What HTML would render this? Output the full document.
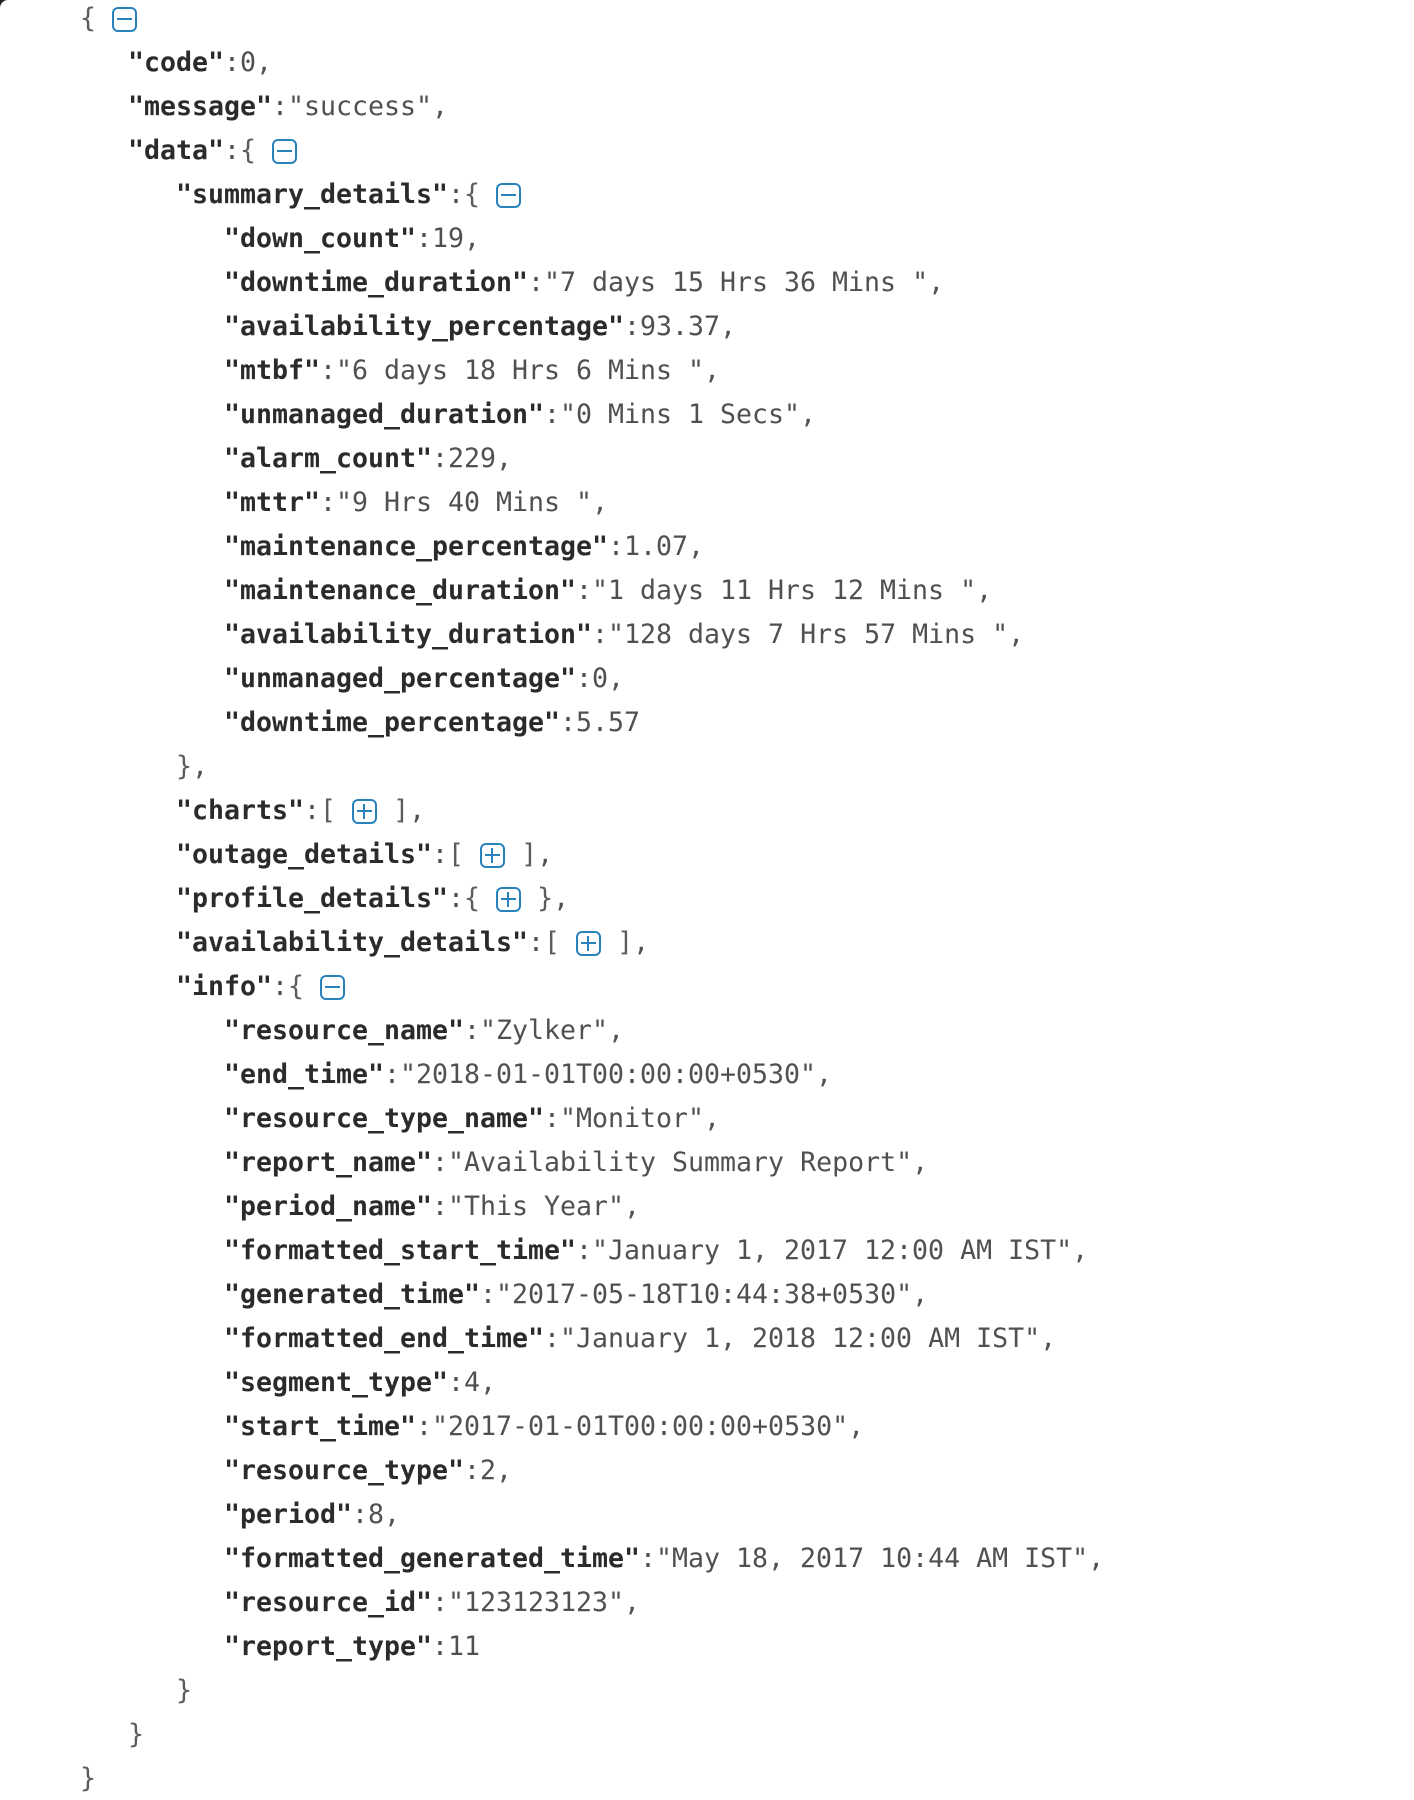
<!DOCTYPE html>
<html><head><meta charset="utf-8">
<style>
html,body{margin:0;padding:0;background:#fff;width:1414px;height:1800px;overflow:hidden}
#w{position:relative;width:1414px;height:1800px;font-family:"DejaVu Sans Mono","Liberation Mono",monospace;font-size:26.58px;color:#505050;filter:blur(0.35px)}
.l{position:absolute;height:44px;line-height:44px;white-space:pre;left:0;margin-left:-1px}
b{color:#2b2b2b;font-weight:bold}
i{font-style:normal;color:#5c5c5c}
.t{display:inline-block;width:25px;height:25px;box-sizing:border-box;border:2.5px solid #2a82bd;border-radius:6px;position:relative;vertical-align:-5px}
.t:before{content:"";position:absolute;left:3px;right:3px;top:9px;height:2px;background:#2a82bd}
.p:after{content:"";position:absolute;top:3px;bottom:3px;left:9px;width:2px;background:#2a82bd}
#c{position:absolute;left:0;top:0;width:8px;height:8px;background:#222;overflow:hidden}
#c:after{content:"";position:absolute;left:0;top:0;width:16px;height:16px;background:#fff;border-radius:8px 0 0 0}
</style></head><body><div id="w">
<div id="c"></div>
<div class="l" style="top:-3px;left:81px"><i>{</i> <span class="t"></span></div>
<div class="l" style="top:41px;left:129px"><b>"code"</b>:0,</div>
<div class="l" style="top:85px;left:129px"><b>"message"</b>:"success",</div>
<div class="l" style="top:129px;left:129px"><b>"data"</b>:<i>{</i> <span class="t"></span></div>
<div class="l" style="top:173px;left:177px"><b>"summary_details"</b>:<i>{</i> <span class="t"></span></div>
<div class="l" style="top:217px;left:225px"><b>"down_count"</b>:19,</div>
<div class="l" style="top:261px;left:225px"><b>"downtime_duration"</b>:"7 days 15 Hrs 36 Mins ",</div>
<div class="l" style="top:305px;left:225px"><b>"availability_percentage"</b>:93.37,</div>
<div class="l" style="top:349px;left:225px"><b>"mtbf"</b>:"6 days 18 Hrs 6 Mins ",</div>
<div class="l" style="top:393px;left:225px"><b>"unmanaged_duration"</b>:"0 Mins 1 Secs",</div>
<div class="l" style="top:437px;left:225px"><b>"alarm_count"</b>:229,</div>
<div class="l" style="top:481px;left:225px"><b>"mttr"</b>:"9 Hrs 40 Mins ",</div>
<div class="l" style="top:525px;left:225px"><b>"maintenance_percentage"</b>:1.07,</div>
<div class="l" style="top:569px;left:225px"><b>"maintenance_duration"</b>:"1 days 11 Hrs 12 Mins ",</div>
<div class="l" style="top:613px;left:225px"><b>"availability_duration"</b>:"128 days 7 Hrs 57 Mins ",</div>
<div class="l" style="top:657px;left:225px"><b>"unmanaged_percentage"</b>:0,</div>
<div class="l" style="top:701px;left:225px"><b>"downtime_percentage"</b>:5.57</div>
<div class="l" style="top:745px;left:177px"><i>}</i>,</div>
<div class="l" style="top:789px;left:177px"><b>"charts"</b>:<i>[</i> <span class="t p"></span> <i>]</i>,</div>
<div class="l" style="top:833px;left:177px"><b>"outage_details"</b>:<i>[</i> <span class="t p"></span> <i>]</i>,</div>
<div class="l" style="top:877px;left:177px"><b>"profile_details"</b>:<i>{</i> <span class="t p"></span> <i>}</i>,</div>
<div class="l" style="top:921px;left:177px"><b>"availability_details"</b>:<i>[</i> <span class="t p"></span> <i>]</i>,</div>
<div class="l" style="top:965px;left:177px"><b>"info"</b>:<i>{</i> <span class="t"></span></div>
<div class="l" style="top:1009px;left:225px"><b>"resource_name"</b>:"Zylker",</div>
<div class="l" style="top:1053px;left:225px"><b>"end_time"</b>:"2018-01-01T00:00:00+0530",</div>
<div class="l" style="top:1097px;left:225px"><b>"resource_type_name"</b>:"Monitor",</div>
<div class="l" style="top:1141px;left:225px"><b>"report_name"</b>:"Availability Summary Report",</div>
<div class="l" style="top:1185px;left:225px"><b>"period_name"</b>:"This Year",</div>
<div class="l" style="top:1229px;left:225px"><b>"formatted_start_time"</b>:"January 1, 2017 12:00 AM IST",</div>
<div class="l" style="top:1273px;left:225px"><b>"generated_time"</b>:"2017-05-18T10:44:38+0530",</div>
<div class="l" style="top:1317px;left:225px"><b>"formatted_end_time"</b>:"January 1, 2018 12:00 AM IST",</div>
<div class="l" style="top:1361px;left:225px"><b>"segment_type"</b>:4,</div>
<div class="l" style="top:1405px;left:225px"><b>"start_time"</b>:"2017-01-01T00:00:00+0530",</div>
<div class="l" style="top:1449px;left:225px"><b>"resource_type"</b>:2,</div>
<div class="l" style="top:1493px;left:225px"><b>"period"</b>:8,</div>
<div class="l" style="top:1537px;left:225px"><b>"formatted_generated_time"</b>:"May 18, 2017 10:44 AM IST",</div>
<div class="l" style="top:1581px;left:225px"><b>"resource_id"</b>:"123123123",</div>
<div class="l" style="top:1625px;left:225px"><b>"report_type"</b>:11</div>
<div class="l" style="top:1669px;left:177px"><i>}</i></div>
<div class="l" style="top:1713px;left:129px"><i>}</i></div>
<div class="l" style="top:1757px;left:81px"><i>}</i></div>
</div></body></html>
